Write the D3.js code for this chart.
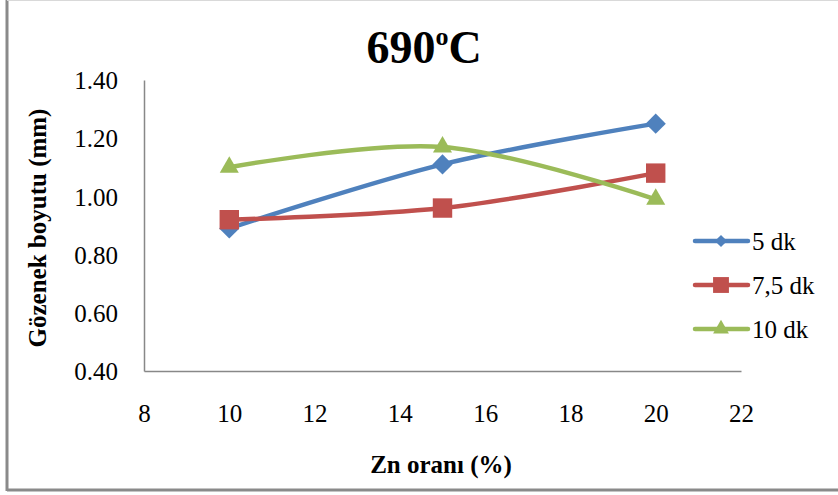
<!DOCTYPE html>
<html>
<head>
<meta charset="utf-8">
<script src="https://cdn.jsdelivr.net/npm/d3@7"></script>
<style>
  html, body { margin: 0; padding: 0; background: #fff; }
  svg { display: block; }
</style>
</head>
<body>
<svg id="chart" width="838" height="495"></svg>
<script>
// Zn content (%) on the x axis
const znPercent = [10, 15, 20];
// Pore size (mm) for each holding time
const series5dk = [0.89, 1.11, 1.25];
const series75dk = [0.92, 0.96, 1.08];
const series10dk = [1.10, 1.17, 0.99];
const seriesNames = ["5 dk", "7,5 dk", "10 dk"];
const xTicks = [8, 10, 12, 14, 16, 18, 20, 22];
const yTicks = [0.40, 0.60, 0.80, 1.00, 1.20, 1.40];

const colors = ["#4F81BD", "#C0504D", "#9BBB59"];
const symbols = [d3.symbolDiamond2, d3.symbolSquare2, d3.symbolTriangle2];
const seriesValues = [series5dk, series75dk, series10dk];

const svg = d3.select("#chart");
const font = "'Liberation Serif', 'Times New Roman', serif";

// Outer frame (left, top and bottom edges)
svg.append("line").attr("x1", 7).attr("x2", 7).attr("y1", 0).attr("y2", 491)
  .attr("stroke", "#8a8a8a").attr("stroke-width", 3);
svg.append("line").attr("x1", 7).attr("x2", 838).attr("y1", 490).attr("y2", 490)
  .attr("stroke", "#8a8a8a").attr("stroke-width", 3);
svg.append("line").attr("x1", 7).attr("x2", 838).attr("y1", 0.5).attr("y2", 0.5)
  .attr("stroke", "#d9d9d9").attr("stroke-width", 1);

const plot = { left: 144, right: 741, top: 80, bottom: 371 };
const x = d3.scaleLinear().domain([8, 22]).range([plot.left, plot.right]);
const y = d3.scaleLinear().domain([0.40, 1.40]).range([plot.bottom, plot.top]);

// Axes
const xAxis = d3.axisBottom(x).tickValues(xTicks).tickSize(0).tickPadding(33)
  .tickFormat(d3.format("d"));
const yAxis = d3.axisLeft(y).tickValues(yTicks).tickSize(0).tickPadding(26)
  .tickFormat(d3.format(".2f"));

const gx = svg.append("g").attr("transform", `translate(0,${plot.bottom})`).call(xAxis);
const gy = svg.append("g").attr("transform", `translate(${plot.left},0)`).call(yAxis);
[gx, gy].forEach(g => {
  g.attr("font-family", null).attr("font-size", null);
  g.select(".domain").attr("stroke", "#888").attr("stroke-width", 1.5);
  g.selectAll("text").style("font-family", font).style("font-size", "25px").attr("fill", "#000");
});
gx.selectAll("text").attr("dy", "0.71em");
gy.selectAll("text").attr("dy", "0.35em");

// Title
const title = svg.append("text").attr("x", 424).attr("y", 63)
  .attr("text-anchor", "middle").style("font-family", font)
  .attr("font-weight", "bold").style("font-size", "46px").attr("fill", "#000");
title.append("tspan").text("690");
title.append("tspan").style("font-size", "26px").attr("dy", -18).text("o");
title.append("tspan").attr("dy", 18).text("C");

// Axis titles
svg.append("text").attr("x", 441).attr("y", 473).attr("text-anchor", "middle")
  .style("font-family", font).attr("font-weight", "bold").style("font-size", "25px")
  .attr("fill", "#000").text("Zn oranı (%)");
svg.append("text").attr("transform", "translate(46,228) rotate(-90)")
  .attr("text-anchor", "middle").style("font-family", font).attr("font-weight", "bold")
  .style("font-size", "25px").attr("fill", "#000").text("Gözenek boyutu (mm)");

// Smoothed series lines and markers
const line = d3.line().x(d => x(d[0])).y(d => y(d[1])).curve(d3.curveCatmullRom.alpha(0));
const markerSizes = [260, 480, 260];

seriesValues.forEach((vals, i) => {
  const pts = znPercent.map((z, k) => [z, vals[k]]);
  svg.append("path").datum(pts).attr("d", line)
    .attr("fill", "none").attr("stroke", colors[i]).attr("stroke-width", 4.5)
    .attr("stroke-linecap", "round");
});
seriesValues.forEach((vals, i) => {
  const pts = znPercent.map((z, k) => [z, vals[k]]);
  svg.append("g").selectAll("path").data(pts).join("path")
    .attr("transform", d => `translate(${x(d[0])},${y(d[1])})`)
    .attr("d", d3.symbol(symbols[i], markerSizes[i]))
    .attr("fill", colors[i]);
});

// Legend
const legend = svg.append("g");
const legendY = [241, 285, 329];
const legendMarkerSizes = [95, 320, 180];
seriesNames.forEach((name, i) => {
  const g = legend.append("g").attr("transform", `translate(0,${legendY[i]})`);
  g.append("line").attr("x1", 695).attr("x2", 748).attr("y1", 0).attr("y2", 0)
    .attr("stroke", colors[i]).attr("stroke-width", 4.5).attr("stroke-linecap", "round");
  g.append("path").attr("transform", "translate(721,0)")
    .attr("d", d3.symbol(symbols[i], legendMarkerSizes[i]))
    .attr("fill", colors[i]);
  g.append("text").attr("x", 752).attr("y", 0).attr("dy", "0.35em")
    .style("font-family", font).style("font-size", "25px").attr("fill", "#000").text(name);
});
</script>
</body>
</html>
